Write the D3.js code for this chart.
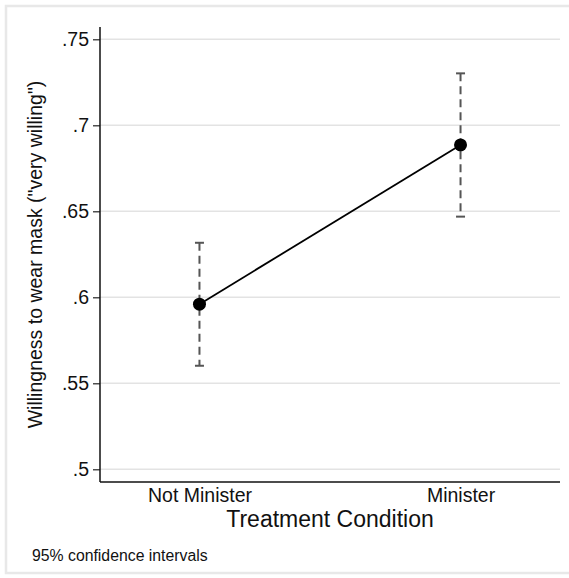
<!DOCTYPE html>
<html>
<head>
<meta charset="utf-8">
<script src="https://cdn.jsdelivr.net/npm/d3@7"></script>
<style>
  html, body { margin: 0; padding: 0; background: #fff; }
  svg { display: block; font-family: "Liberation Sans", Arial, Helvetica, sans-serif; }
</style>
</head>
<body>
<svg id="chart" width="569" height="578"></svg>
<script>
// Treatment groups and estimated share "very willing" with 95% CIs
const categories = ["Not Minister", "Minister"];
const means = [0.596, 0.6886];
const ciLower = [0.5602, 0.6469];
const ciUpper = [0.6317, 0.7302];
const yTicks = [0.5, 0.55, 0.6, 0.65, 0.7, 0.75];
const yTickLabels = [".5", ".55", ".6", ".65", ".7", ".75"];

const svg = d3.select("#chart");
const W = 569, H = 578;

// outer frame
svg.append("rect").attr("x", 0).attr("y", 0).attr("width", W).attr("height", H).attr("fill", "#fff");
svg.append("rect")
  .attr("x", 6).attr("y", 6).attr("width", W + 10).attr("height", H - 12 + 1)
  .attr("fill", "none").attr("stroke", "#e8e8e8").attr("stroke-width", 2.5);

const plot = { left: 100, right: 560, top: 27, bottom: 482 };

const x = d3.scalePoint()
  .domain(categories)
  .range([plot.left, plot.right])
  .padding(0.381);

const y = d3.scaleLinear()
  .domain([0.5, 0.75])
  .range([469.3, 39.3]);

// gridlines
svg.append("g")
  .selectAll("line")
  .data(yTicks)
  .join("line")
  .attr("x1", plot.left).attr("x2", plot.right)
  .attr("y1", d => y(d)).attr("y2", d => y(d))
  .attr("stroke", "#e3e3e3").attr("stroke-width", 1.5);

// y axis
const yAxis = d3.axisLeft(y)
  .tickValues(yTicks)
  .tickFormat((d, i) => yTickLabels[i])
  .tickSize(7)
  .tickPadding(4);
const gy = svg.append("g").attr("transform", `translate(${plot.left},0)`).call(yAxis);
gy.select(".domain").remove();
gy.selectAll(".tick line").attr("stroke", "#222").attr("stroke-width", 1.2);
gy.selectAll(".tick text").attr("font-size", 19.5).attr("fill", "#111")
  .attr("font-family", "Liberation Sans, Arial, sans-serif");
svg.append("line")
  .attr("x1", plot.left).attr("x2", plot.left)
  .attr("y1", plot.top).attr("y2", plot.bottom)
  .attr("stroke", "#111").attr("stroke-width", 1.5);

// x axis
const xAxis = d3.axisBottom(x).tickSize(0).tickPadding(6);
const gx = svg.append("g").attr("transform", `translate(0,${plot.bottom})`).call(xAxis);
gx.select(".domain").remove();
gx.selectAll(".tick text").attr("font-size", 19.5).attr("fill", "#111")
  .attr("font-family", "Liberation Sans, Arial, sans-serif")
  .attr("dy", null).attr("y", 20);
svg.append("line")
  .attr("x1", plot.left).attr("x2", plot.right)
  .attr("y1", plot.bottom).attr("y2", plot.bottom)
  .attr("stroke", "#111").attr("stroke-width", 1.5);

// axis titles
svg.append("text")
  .attr("x", (plot.left + plot.right) / 2).attr("y", 527)
  .attr("text-anchor", "middle").attr("font-size", 23).attr("fill", "#111")
  .text("Treatment Condition");

svg.append("text")
  .attr("transform", `translate(42,${(plot.top + plot.bottom) / 2}) rotate(-90)`)
  .attr("text-anchor", "middle").attr("font-size", 19.5).attr("fill", "#111")
  .text("Willingness to wear mask (\"very willing\")");

// note
svg.append("text")
  .attr("x", 32).attr("y", 561)
  .attr("font-size", 15.8).attr("fill", "#111")
  .text("95% confidence intervals");

// confidence intervals
const ci = svg.append("g");
categories.forEach((c, i) => {
  ci.append("line")
    .attr("x1", x(c)).attr("x2", x(c))
    .attr("y1", y(ciUpper[i])).attr("y2", y(ciLower[i]))
    .attr("stroke", "#555").attr("stroke-width", 2)
    .attr("stroke-dasharray", "8,5");
  [ciUpper[i], ciLower[i]].forEach(v => {
    ci.append("line")
      .attr("x1", x(c) - 4.5).attr("x2", x(c) + 4.5)
      .attr("y1", y(v)).attr("y2", y(v))
      .attr("stroke", "#555").attr("stroke-width", 2);
  });
});

// connecting line and markers
const line = d3.line()
  .x((d, i) => x(categories[i]))
  .y(d => y(d));
svg.append("path")
  .datum(means)
  .attr("d", line)
  .attr("fill", "none").attr("stroke", "#000").attr("stroke-width", 1.8);

svg.append("g")
  .selectAll("circle")
  .data(means)
  .join("circle")
  .attr("cx", (d, i) => x(categories[i]))
  .attr("cy", d => y(d))
  .attr("r", 6.5)
  .attr("fill", "#000");
</script>
</body>
</html>
